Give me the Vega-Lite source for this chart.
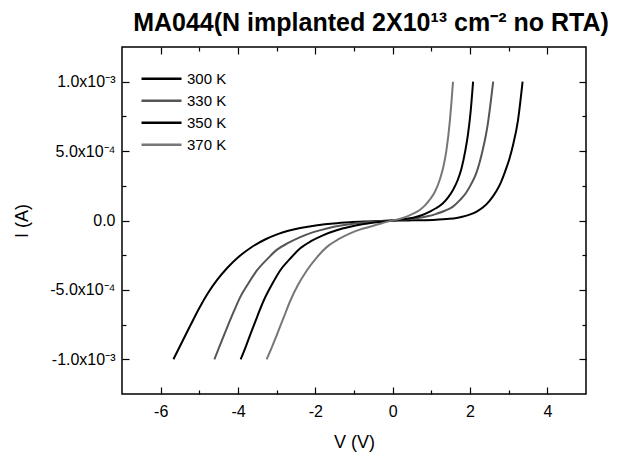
{
  "$schema": "https://vega.github.io/schema/vega-lite/v6.json",
  "autosize": {"type": "none"},
  "padding": {"left": 122, "top": 47, "right": 31, "bottom": 66},
  "width": 464,
  "height": 347,
  "background": "white",
  "config": {
    "view": {"stroke": "black", "strokeWidth": 1.5},
    "font": "Liberation Sans",
    "axis": {"domain": false, "grid": false, "labelFont": "Liberation Sans", "titleFont": "Liberation Sans", "labelFontSize": 15, "titleFontSize": 17, "titleFontWeight": "normal", "labelColor": "black", "titleColor": "black", "tickColor": "black", "tickWidth": 1.2}
  },
  "title": {"text": "MA044(N implanted 2X10¹³ cm⁻² no RTA)", "font": "Liberation Sans", "fontSize": 25, "fontWeight": "bold", "anchor": "middle", "dx": 17, "offset": 10, "color": "black"},
  "data": {"values": [
    {"T": "300 K", "V": -5.67, "I": -0.001},
    {"T": "300 K", "V": -5.23, "I": -0.000755},
    {"T": "300 K", "V": -5.0, "I": -0.00063},
    {"T": "300 K", "V": -4.78, "I": -0.000524},
    {"T": "300 K", "V": -4.54, "I": -0.000428},
    {"T": "300 K", "V": -4.28, "I": -0.000342},
    {"T": "300 K", "V": -3.98, "I": -0.000261},
    {"T": "300 K", "V": -3.68, "I": -0.000198},
    {"T": "300 K", "V": -3.3, "I": -0.000137},
    {"T": "300 K", "V": -2.99, "I": -0.0001},
    {"T": "300 K", "V": -2.7, "I": -0.000074},
    {"T": "300 K", "V": -2.39, "I": -0.000054},
    {"T": "300 K", "V": -1.95, "I": -0.000034},
    {"T": "300 K", "V": -1.53, "I": -0.000021},
    {"T": "300 K", "V": -1.1, "I": -0.0000125},
    {"T": "300 K", "V": -0.67, "I": -0.000007},
    {"T": "300 K", "V": -0.3, "I": -0.000003},
    {"T": "300 K", "V": 0, "I": 0},
    {"T": "300 K", "V": 0.5, "I": 0.000001},
    {"T": "300 K", "V": 1.04, "I": 0.000004},
    {"T": "300 K", "V": 1.4, "I": 0.000011},
    {"T": "300 K", "V": 1.65, "I": 0.000018},
    {"T": "300 K", "V": 1.8, "I": 0.000027},
    {"T": "300 K", "V": 1.99, "I": 0.000042},
    {"T": "300 K", "V": 2.15, "I": 0.000061},
    {"T": "300 K", "V": 2.33, "I": 0.000093},
    {"T": "300 K", "V": 2.5, "I": 0.00014},
    {"T": "300 K", "V": 2.68, "I": 0.00021},
    {"T": "300 K", "V": 2.8, "I": 0.000275},
    {"T": "300 K", "V": 2.93, "I": 0.00037},
    {"T": "300 K", "V": 3.02, "I": 0.000445},
    {"T": "300 K", "V": 3.11, "I": 0.00054},
    {"T": "300 K", "V": 3.24, "I": 0.00072},
    {"T": "300 K", "V": 3.36, "I": 0.001},
    {"T": "330 K", "V": -4.61, "I": -0.001},
    {"T": "330 K", "V": -4.44, "I": -0.00088},
    {"T": "330 K", "V": -4.28, "I": -0.00077},
    {"T": "330 K", "V": -4.1, "I": -0.00065},
    {"T": "330 K", "V": -3.94, "I": -0.00055},
    {"T": "330 K", "V": -3.73, "I": -0.000452},
    {"T": "330 K", "V": -3.51, "I": -0.00036},
    {"T": "330 K", "V": -3.25, "I": -0.00028},
    {"T": "330 K", "V": -2.99, "I": -0.00021},
    {"T": "330 K", "V": -2.7, "I": -0.000162},
    {"T": "330 K", "V": -2.39, "I": -0.00012},
    {"T": "330 K", "V": -2.05, "I": -0.000084},
    {"T": "330 K", "V": -1.70, "I": -0.000057},
    {"T": "330 K", "V": -1.3, "I": -0.000035},
    {"T": "330 K", "V": -0.93, "I": -0.00002},
    {"T": "330 K", "V": -0.45, "I": -0.000009},
    {"T": "330 K", "V": 0, "I": 0},
    {"T": "330 K", "V": 0.3, "I": 0.000007},
    {"T": "330 K", "V": 0.62, "I": 0.000016},
    {"T": "330 K", "V": 0.9, "I": 0.00003},
    {"T": "330 K", "V": 1.13, "I": 0.000048},
    {"T": "330 K", "V": 1.35, "I": 0.00007},
    {"T": "330 K", "V": 1.56, "I": 0.0001},
    {"T": "330 K", "V": 1.75, "I": 0.00015},
    {"T": "330 K", "V": 1.90, "I": 0.0002},
    {"T": "330 K", "V": 2.03, "I": 0.000262},
    {"T": "330 K", "V": 2.16, "I": 0.00034},
    {"T": "330 K", "V": 2.25, "I": 0.00042},
    {"T": "330 K", "V": 2.33, "I": 0.00051},
    {"T": "330 K", "V": 2.4, "I": 0.0006},
    {"T": "330 K", "V": 2.46, "I": 0.000695},
    {"T": "330 K", "V": 2.53, "I": 0.00084},
    {"T": "330 K", "V": 2.60, "I": 0.001},
    {"T": "350 K", "V": -3.93, "I": -0.001},
    {"T": "350 K", "V": -3.8, "I": -0.00091},
    {"T": "350 K", "V": -3.68, "I": -0.00082},
    {"T": "350 K", "V": -3.5, "I": -0.00069},
    {"T": "350 K", "V": -3.34, "I": -0.00058},
    {"T": "350 K", "V": -3.12, "I": -0.00046},
    {"T": "350 K", "V": -2.91, "I": -0.00036},
    {"T": "350 K", "V": -2.65, "I": -0.000275},
    {"T": "350 K", "V": -2.39, "I": -0.0002},
    {"T": "350 K", "V": -2.1, "I": -0.000147},
    {"T": "350 K", "V": -1.79, "I": -0.000105},
    {"T": "350 K", "V": -1.45, "I": -0.00007},
    {"T": "350 K", "V": -1.10, "I": -0.000045},
    {"T": "350 K", "V": -0.75, "I": -0.000026},
    {"T": "350 K", "V": -0.42, "I": -0.000013},
    {"T": "350 K", "V": 0, "I": 0},
    {"T": "350 K", "V": 0.28, "I": 0.000009},
    {"T": "350 K", "V": 0.53, "I": 0.00002},
    {"T": "350 K", "V": 0.75, "I": 0.000038},
    {"T": "350 K", "V": 0.96, "I": 0.000064},
    {"T": "350 K", "V": 1.13, "I": 0.00009},
    {"T": "350 K", "V": 1.30, "I": 0.000125},
    {"T": "350 K", "V": 1.43, "I": 0.000165},
    {"T": "350 K", "V": 1.56, "I": 0.00022},
    {"T": "350 K", "V": 1.68, "I": 0.00029},
    {"T": "350 K", "V": 1.78, "I": 0.000375},
    {"T": "350 K", "V": 1.88, "I": 0.000505},
    {"T": "350 K", "V": 1.95, "I": 0.000625},
    {"T": "350 K", "V": 2.02, "I": 0.000795},
    {"T": "350 K", "V": 2.08, "I": 0.001},
    {"T": "370 K", "V": -3.26, "I": -0.001},
    {"T": "370 K", "V": -3.12, "I": -0.00091},
    {"T": "370 K", "V": -2.99, "I": -0.00082},
    {"T": "370 K", "V": -2.82, "I": -0.0007},
    {"T": "370 K", "V": -2.65, "I": -0.00058},
    {"T": "370 K", "V": -2.44, "I": -0.00046},
    {"T": "370 K", "V": -2.22, "I": -0.00036},
    {"T": "370 K", "V": -1.96, "I": -0.000265},
    {"T": "370 K", "V": -1.70, "I": -0.00019},
    {"T": "370 K", "V": -1.4, "I": -0.000135},
    {"T": "370 K", "V": -1.10, "I": -0.000093},
    {"T": "370 K", "V": -0.85, "I": -0.000066},
    {"T": "370 K", "V": -0.59, "I": -0.000045},
    {"T": "370 K", "V": -0.3, "I": -0.000021},
    {"T": "370 K", "V": 0, "I": 0},
    {"T": "370 K", "V": 0.2, "I": 0.000013},
    {"T": "370 K", "V": 0.36, "I": 0.000028},
    {"T": "370 K", "V": 0.53, "I": 0.00005},
    {"T": "370 K", "V": 0.70, "I": 0.000076},
    {"T": "370 K", "V": 0.83, "I": 0.000107},
    {"T": "370 K", "V": 0.96, "I": 0.00015},
    {"T": "370 K", "V": 1.09, "I": 0.000205},
    {"T": "370 K", "V": 1.22, "I": 0.000295},
    {"T": "370 K", "V": 1.31, "I": 0.000385},
    {"T": "370 K", "V": 1.39, "I": 0.000505},
    {"T": "370 K", "V": 1.48, "I": 0.00072},
    {"T": "370 K", "V": 1.52, "I": 0.00085},
    {"T": "370 K", "V": 1.56, "I": 0.001}
  ]},
  "layer": [
    {
      "mark": {"type": "line", "strokeWidth": 2, "interpolate": "monotone"},
      "encoding": {
        "x": {"field": "V", "type": "quantitative", "scale": {"domain": [-7, 5], "nice": false, "zero": false},
          "axis": {"orient": "bottom", "title": "V (V)", "values": [-6, -5, -4, -3, -2, -1, 0, 1, 2, 3, 4],
            "tickSize": {"condition": {"test": "datum.value % 2 === 0", "value": -7}, "value": -4},
            "labelExpr": "datum.value % 2 === 0 ? '' + datum.value : ''", "labelPadding": 16, "titlePadding": 14, "labelFlush": false,
            "labelFontSize": 16, "titleFontSize": 18, "labelFont": "Liberation Sans", "titleFont": "Liberation Sans"}},
        "y": {"field": "I", "type": "quantitative", "scale": {"domain": [-0.00125, 0.00125], "nice": false, "zero": false},
          "axis": {"orient": "left", "title": "I (A)", "values": [-0.001, -0.00075, -0.0005, -0.00025, 0, 0.00025, 0.0005, 0.00075, 0.001],
            "tickSize": {"condition": {"test": "round(datum.value * 4000) % 2 === 0", "value": -7}, "value": -4},
            "labelExpr": "round(datum.value*4000) === 4 ? '1.0x10⁻³' : round(datum.value*4000) === 2 ? '5.0x10⁻⁴' : round(datum.value*4000) === 0 ? '0.0' : round(datum.value*4000) === -2 ? '-5.0x10⁻⁴' : round(datum.value*4000) === -4 ? '-1.0x10⁻³' : ''",
            "labelPadding": 14, "titlePadding": 18, "labelFlush": false,
            "labelFontSize": 16, "titleFontSize": 18, "labelFont": "Liberation Sans", "titleFont": "Liberation Sans"}},
        "color": {"field": "T", "type": "nominal",
          "scale": {"domain": ["300 K", "330 K", "350 K", "370 K"], "range": ["#000000", "#555555", "#000000", "#777777"]},
          "legend": {"title": null, "orient": "none", "legendX": 18, "legendY": 21, "symbolType": "stroke", "symbolSize": 1600, "symbolStrokeWidth": 2.5,
            "labelFont": "Liberation Sans", "labelFontSize": 15, "labelColor": "black", "labelOffset": 4, "clipHeight": 21.5, "rowPadding": 0, "padding": 0}}
      }
    },
    {
      "mark": {"type": "line", "opacity": 0},
      "encoding": {
        "x": {"field": "V", "type": "quantitative", "scale": {"domain": [-7, 5], "nice": false, "zero": false},
          "axis": {"orient": "top", "title": null, "labels": false, "values": [-6, -5, -4, -3, -2, -1, 0, 1, 2, 3, 4],
            "tickSize": {"condition": {"test": "datum.value % 2 === 0", "value": -7}, "value": -4}}},
        "y": {"field": "I", "type": "quantitative", "scale": {"domain": [-0.00125, 0.00125], "nice": false, "zero": false},
          "axis": {"orient": "right", "title": null, "labels": false, "values": [-0.001, -0.00075, -0.0005, -0.00025, 0, 0.00025, 0.0005, 0.00075, 0.001],
            "tickSize": {"condition": {"test": "round(datum.value * 4000) % 2 === 0", "value": -7}, "value": -4}}},
        "detail": {"field": "T", "type": "nominal"}
      }
    }
  ],
  "resolve": {"axis": {"x": "independent", "y": "independent"}}
}
